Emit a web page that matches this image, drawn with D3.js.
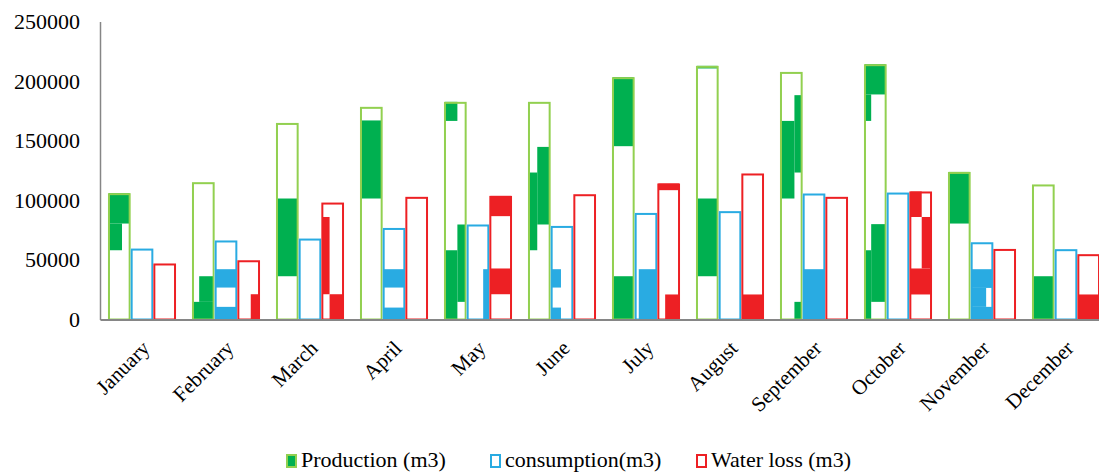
<!DOCTYPE html>
<html>
<head>
<meta charset="utf-8">
<script src="https://cdn.jsdelivr.net/npm/d3@7/dist/d3.min.js"></script>
<style>
  html, body { margin: 0; padding: 0; background: #fff; }
  svg { display: block; }
  text { font-family: "Liberation Serif", "Times New Roman", serif; fill: #000; }
</style>
</head>
<body>
<svg id="chart" width="1099" height="472"></svg>
<script>
// Monthly water balance (m3)
const months = ["January", "February", "March", "April", "May", "June",
                "July", "August", "September", "October", "November", "December"];
const production  = [106000, 115200, 164900, 178400, 182600, 182600, 203300, 212800, 207700, 214200, 123800, 113300];
const consumption = [59500, 66300, 67900, 76800, 79700, 78500, 89400, 90900, 105700, 106500, 64800, 59000];
const waterLoss   = [47000, 49700, 98100, 102900, 103700, 105100, 114100, 122500, 102900, 107400, 59200, 54800];
const yTicks = [0, 50000, 100000, 150000, 200000, 250000];

// Patchy texture fill inside each bar: [month, from m3, to m3, left share, right share]
const productionShade = [
  [0, 80500, 106000, 0, 1], [0, 58100, 80500, 0, 0.63],
  [1, 0, 14800, 0, 1], [1, 14800, 36300, 0.3, 1],
  [2, 36300, 101500, 0, 1],
  [3, 101500, 167000, 0, 1],
  [4, 166600, 182600, 0, 0.6], [4, 14800, 79700, 0.6, 1], [4, 0, 58100, 0, 0.6],
  [5, 79700, 144800, 0.4, 1], [5, 58100, 123300, 0, 0.4],
  [6, 145400, 203300, 0, 1], [6, 0, 36300, 0, 1],
  [7, 210600, 212800, 0, 1], [7, 36300, 101500, 0, 1],
  [8, 123300, 188200, 0.65, 1], [8, 101500, 166600, 0, 0.65], [8, 0, 14800, 0.65, 1],
  [9, 188800, 214200, 0, 1], [9, 166600, 188800, 0, 0.3], [9, 14800, 80000, 0.3, 1], [9, 0, 58100, 0, 0.3],
  [10, 80500, 123800, 0, 1],
  [11, 0, 36300, 0, 1]
];
const consumptionShade = [
  [1, 26800, 42200, 0, 1], [1, 0, 10600, 0, 1],
  [3, 26800, 42200, 0, 1], [3, 0, 10000, 0, 1],
  [4, 0, 42200, 0.75, 1],
  [5, 26800, 42200, 0, 0.45], [5, 0, 10000, 0, 0.45],
  [6, 0, 42200, 0.15, 1],
  [8, 0, 42200, 0, 1],
  [10, 26500, 42200, 0, 1], [10, 10600, 26500, 0, 0.7], [10, 0, 10600, 0, 1]
];
const lossShade = [
  [1, 0, 21200, 0.6, 1],
  [2, 21200, 86000, 0, 0.35], [2, 0, 21200, 0.35, 1],
  [4, 86700, 103700, 0, 1], [4, 21200, 42800, 0, 1],
  [6, 108500, 114100, 0, 1], [6, 0, 21000, 0.33, 1],
  [7, 0, 21000, 0, 1],
  [9, 86000, 107400, 0, 0.55], [9, 42800, 86000, 0.55, 1], [9, 21000, 42800, 0, 1],
  [11, 0, 21000, 0, 1]
];

const series = [
  { key: "Production (m3)",  values: production,  shade: productionShade,  fill: "#00B050", stroke: "#92D050" },
  { key: "consumption(m3)",  values: consumption, shade: consumptionShade, fill: "#29ABE2", stroke: "#29ABE2" },
  { key: "Water loss (m3)",  values: waterLoss,   shade: lossShade,        fill: "#ED2024", stroke: "#ED2024" }
];

const svg = d3.select("#chart");
const axisX0 = 100, plotRight = 1108, y0 = 319.5, yTop = 21.5;

const x = d3.scaleBand().domain(months).range([axisX0, plotRight])
  .paddingInner(0.19).paddingOuter(0.095);
const xs = d3.scaleBand().domain(series.map(s => s.key)).range([0, x.bandwidth()]);
const y = d3.scaleLinear().domain([0, 250000]).range([y0, yTop]);

// Bars
series.forEach(s => {
  const g = svg.append("g");
  const bw = xs.bandwidth();
  const bx = i => x(months[i]) + xs(s.key);
  // white body
  g.selectAll("rect.body").data(s.values).join("rect")
    .attr("x", (d, i) => bx(i)).attr("y", d => y(d))
    .attr("width", bw).attr("height", d => y(0) - y(d))
    .attr("fill", "#fff");
  // texture patches
  g.selectAll("rect.patch").data(s.shade).join("rect")
    .attr("x", d => bx(d[0]) + 1 + d[3] * (bw - 2))
    .attr("width", d => (d[4] - d[3]) * (bw - 2))
    .attr("y", d => y(Math.min(d[2], s.values[d[0]])))
    .attr("height", d => y(d[1]) - y(Math.min(d[2], s.values[d[0]])))
    .attr("fill", s.fill);
  // outline
  g.selectAll("rect.edge").data(s.values).join("rect")
    .attr("x", (d, i) => bx(i) + 1).attr("y", d => y(d) + 1)
    .attr("width", bw - 2).attr("height", d => y(0) - y(d) - 1)
    .attr("fill", "none").attr("stroke", s.stroke).attr("stroke-width", 2);
});

// Axes
const yAxis = d3.axisLeft(y).tickValues(yTicks).tickSize(0).tickPadding(20).tickFormat(d3.format("d"));
const gy = svg.append("g").attr("transform", `translate(${axisX0},0)`).call(yAxis);
gy.select(".domain").attr("stroke", "#868686").attr("stroke-width", 1.5);
gy.selectAll("text").attr("font-size", 22).attr("font-family", "Liberation Serif");

const xAxis = d3.axisBottom(x).tickSize(0).tickPadding(0);
const gx = svg.append("g").attr("transform", `translate(0,${y0})`).call(xAxis);
gx.select(".domain").attr("stroke", "#868686").attr("stroke-width", 2);
gx.selectAll("text")
  .attr("font-size", 21).attr("font-family", "Liberation Serif")
  .attr("text-anchor", "end").attr("dy", 0).attr("y", 0)
  .attr("transform", "translate(9,30) rotate(-45)");

// Legend
const legend = svg.append("g").attr("transform", "translate(0,460)");
const legendX = [286, 490, 696];
series.forEach((s, i) => {
  const item = legend.append("g").attr("transform", `translate(${legendX[i]},0)`);
  item.append("rect").attr("x", 1).attr("y", -5).attr("width", 9).attr("height", 12)
    .attr("fill", i === 0 ? s.fill : "#fff").attr("stroke", s.stroke).attr("stroke-width", 2);
  item.append("text").attr("x", 15).attr("y", 7).attr("font-size", 22).text(s.key);
});
</script>
</body>
</html>
